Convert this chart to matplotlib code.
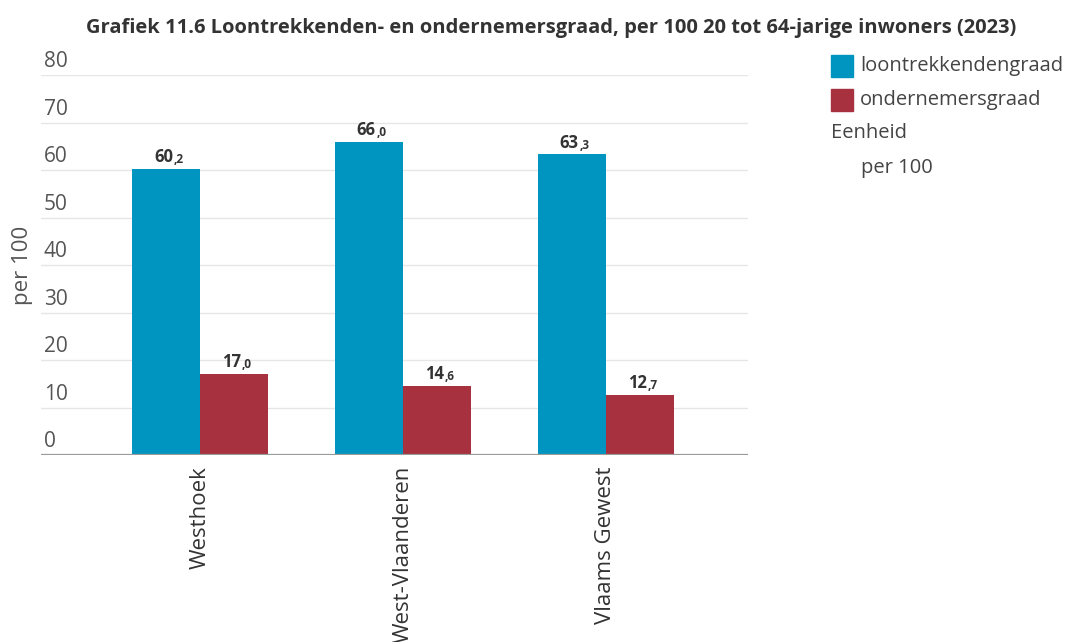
import matplotlib.pyplot as plt
import numpy as np
from matplotlib.patches import Rectangle

plt.rcParams['font.family'] = ['Open Sans', 'DejaVu Sans']

categories = ["Westhoek", "West-Vlaanderen", "Vlaams Gewest"]
loontrekkenden = [60.2, 66.0, 63.3]
ondernemers = [17.0, 14.6, 12.7]
series_names = ["loontrekkendengraad", "ondernemersgraad"]
yticks = [0, 10, 20, 30, 40, 50, 60, 70, 80]

blue = "#0095c0"
red = "#a8313f"
tick_color = "#555555"

W, H = 1069, 642
fig = plt.figure(figsize=(W / 100, H / 100), dpi=100)
ax = fig.add_axes([41 / W, 1 - 455 / H, (748 - 41) / W, (455 - 75) / H])

x = np.arange(len(categories))
bw = 0.335
ax.bar(x - bw / 2, loontrekkenden, bw, color=blue, zorder=3)
ax.bar(x + bw / 2, ondernemers, bw, color=red, zorder=3)

ax.set_xlim(-0.783, 2.70)
ax.set_ylim(0, 80)

# grid lines with their tick labels sitting just above each line
for t in yticks:
    if t > 0:
        ax.axhline(t, color="#e6e6e6", lw=1, zorder=1)
    ax.annotate(str(t), xy=(0, t), xycoords=("axes fraction", "data"),
                xytext=(2, 2), textcoords="offset points",
                ha="left", va="bottom", fontsize=15, color=tick_color)
ax.axhline(0, color="#9a9a9a", lw=1.6, zorder=4)

ax.set_yticks([])
ax.set_xticks(x)
ax.set_xticklabels(categories, rotation=90, fontsize=16, color="#333333")
ax.tick_params(axis="x", length=0, pad=8)
for s in ax.spines.values():
    s.set_visible(False)

ax.set_ylabel("per 100", fontsize=16, color=tick_color)
ax.yaxis.set_label_coords(-0.011, 0.5)


def value_label(xc, v):
    whole, dec = f"{v:.1f}".split(".")
    ax.annotate(whole, xy=(xc, v), xytext=(5, 2), textcoords="offset points",
                ha="right", va="bottom", fontsize=12, fontweight="bold",
                color="#333333", zorder=5)
    ax.annotate("," + dec, xy=(xc, v), xytext=(5.5, 2), textcoords="offset points",
                ha="left", va="bottom", fontsize=8.5, fontweight="bold",
                color="#333333", zorder=5)


for xi, v in zip(x - bw / 2, loontrekkenden):
    value_label(xi, v)
for xi, v in zip(x + bw / 2, ondernemers):
    value_label(xi, v)

fig.text(551 / W, 1 - 28 / H,
         "Grafiek 11.6 Loontrekkenden- en ondernemersgraad, per 100 20 tot 64-jarige inwoners (2023)",
         ha="center", va="center", fontsize=14.5, fontweight="bold", color="#333333")

# legend drawn in figure coordinates
for name, col, yc in zip(series_names, [blue, red], [66, 100]):
    fig.patches.append(Rectangle((831 / W, 1 - (yc + 11) / H), 22 / W, 22 / H,
                                 transform=fig.transFigure, color=col))
    fig.text(860 / W, 1 - yc / H, name, ha="left", va="center",
             fontsize=14.5, color="#444444")
fig.text(831 / W, 1 - 133 / H, "Eenheid", ha="left", va="center",
         fontsize=14.5, color="#444444")
fig.text(861 / W, 1 - 168 / H, "per 100", ha="left", va="center",
         fontsize=14.5, color="#444444")

fig.savefig("out.png", dpi=100)
